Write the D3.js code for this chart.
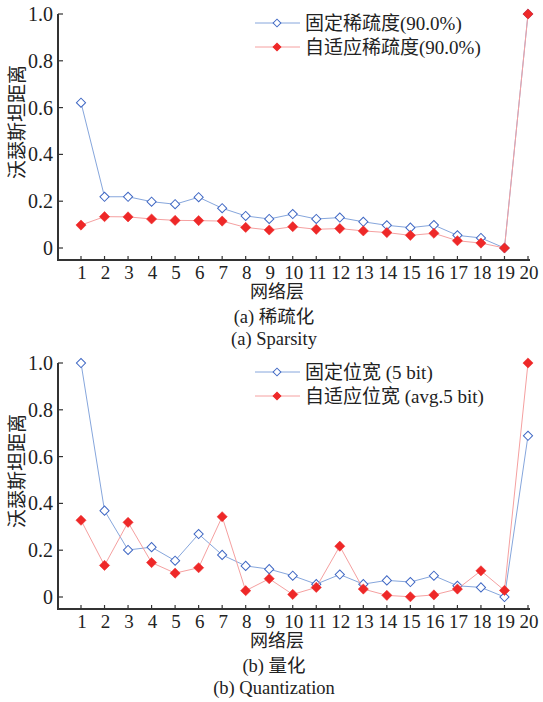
<!DOCTYPE html>
<html>
<head>
<meta charset="utf-8">
<script src="https://cdn.jsdelivr.net/npm/d3@7"></script>
</head>
<body style="margin:0;background:#fff">
<div id="chart"></div>
<script>
// layers 1..20
const layers = d3.range(1, 21);
const yTicks = [0, 0.2, 0.4, 0.6, 0.8, 1.0];

// (a) sparsity
const sparseFixed = [0.621,0.219,0.219,0.198,0.187,0.217,0.170,0.137,0.124,0.145,
                     0.124,0.130,0.112,0.097,0.087,0.098,0.054,0.043,0.0,1.0];
const sparseAdapt = [0.098,0.134,0.133,0.124,0.118,0.117,0.115,0.088,0.077,0.091,
                     0.080,0.083,0.073,0.066,0.054,0.063,0.031,0.021,0.0,1.0];
// (b) quantization
const quantFixed = [1.0,0.369,0.201,0.213,0.155,0.269,0.180,0.133,0.119,0.091,
                    0.055,0.096,0.055,0.071,0.064,0.091,0.048,0.041,0.0,0.689];
const quantAdapt = [0.328,0.135,0.319,0.147,0.102,0.125,0.343,0.027,0.078,0.011,
                    0.041,0.217,0.034,0.007,0.001,0.009,0.034,0.112,0.028,1.0];

const panels = [
  { top: 14, fixed: sparseFixed, adapt: sparseAdapt,
    legend: ['固定稀疏度(90.0%)', '自适应稀疏度(90.0%)'],
    cap1: '(a) 稀疏化', cap2: '(a) Sparsity' },
  { top: 363, fixed: quantFixed, adapt: quantAdapt,
    legend: ['固定位宽 (5 bit)', '自适应位宽 (avg.5 bit)'],
    cap1: '(b) 量化', cap2: '(b) Quantization' }
];

const W = 543, H = 702;
const FONT = '"Liberation Serif", "Noto Sans CJK SC", serif';
const blueLine = '#86a6dc', blueMark = '#4068c4';
const redLine = '#f5a0a0', redMark = '#ee2828';

const svg = d3.select('#chart').append('svg').attr('width', W).attr('height', H)
  .attr('font-family', FONT).attr('fill', '#222');

const x = d3.scaleLinear().domain([1, 20]).range([81, 528]);
// square turned 45deg -> diamond with equal diagonals
const diamondB = d3.symbol().type(d3.symbolSquare).size(42);
const diamondR = d3.symbol().type(d3.symbolSquare).size(52);
const diamondL = d3.symbol().type(d3.symbolSquare).size(30);

function txt(g, s, size){
  return g.append('text').style('font-family', FONT).style('font-size', size + 'px')
    .attr('fill', '#222').text(s);
}

panels.forEach(p => {
  const y = d3.scaleLinear().domain([0, 1]).range([p.top + 234, p.top]);
  const axisY = p.top + 246;
  const g = svg.append('g');

  // y axis
  g.append('line').attr('x1', 58).attr('x2', 58)
    .attr('y1', p.top).attr('y2', axisY)
    .attr('stroke', '#333').attr('stroke-width', 2);
  yTicks.forEach(t => {
    g.append('line').attr('x1', 58).attr('x2', 63)
      .attr('y1', y(t)).attr('y2', y(t)).attr('stroke', '#333').attr('stroke-width', 1.2);
    txt(g, t === 0 ? '0' : t.toFixed(1), 20)
      .attr('x', 53).attr('y', y(t)).attr('dy', '0.35em').attr('text-anchor', 'end');
  });

  // x axis
  g.append('line').attr('x1', 57).attr('x2', 530)
    .attr('y1', axisY).attr('y2', axisY)
    .attr('stroke', '#333').attr('stroke-width', 2);
  layers.forEach(l => {
    g.append('line').attr('x1', x(l)).attr('x2', x(l))
      .attr('y1', axisY).attr('y2', axisY - 4).attr('stroke', '#333').attr('stroke-width', 1.2);
    txt(g, l, 19).attr('x', x(l) + 1).attr('y', axisY + 12).attr('dy', '0.35em')
      .attr('text-anchor', 'middle');
  });

  // titles
  txt(g, '沃瑟斯坦距离', 19)
    .attr('transform', `translate(17,${p.top + 108}) rotate(-90)`)
    .attr('dy', '0.35em').attr('text-anchor', 'middle');
  txt(g, '网络层', 18).attr('x', 277).attr('y', axisY + 32).attr('dy', '0.35em')
    .attr('text-anchor', 'middle');
  txt(g, p.cap1, 18.5).attr('x', 274).attr('y', axisY + 57).attr('dy', '0.35em')
    .attr('text-anchor', 'middle');
  txt(g, p.cap2, 18.5).attr('x', 274).attr('y', axisY + 79).attr('dy', '0.35em')
    .attr('text-anchor', 'middle');

  // series
  const line = d3.line().x((d, i) => x(layers[i])).y(d => y(d));
  g.append('path').datum(p.fixed).attr('d', line)
    .attr('fill', 'none').attr('stroke', blueLine).attr('stroke-width', 1);
  g.selectAll('.fm').data(p.fixed).enter().append('path')
    .attr('transform', (d, i) => `translate(${x(layers[i])},${y(d)}) rotate(45)`)
    .attr('d', diamondB).attr('fill', '#fff').attr('stroke', blueMark).attr('stroke-width', 1);
  g.append('path').datum(p.adapt).attr('d', line)
    .attr('fill', 'none').attr('stroke', redLine).attr('stroke-width', 1);
  g.selectAll('.am').data(p.adapt).enter().append('path')
    .attr('transform', (d, i) => `translate(${x(layers[i])},${y(d)}) rotate(45)`)
    .attr('d', diamondR).attr('fill', redMark).attr('stroke', redMark).attr('stroke-width', 0.5);

  // legend
  const ly = [p.top + 9, p.top + 33];
  [[blueLine, blueMark, '#fff'], [redLine, redMark, redMark]].forEach((c, i) => {
    g.append('line').attr('x1', 255).attr('x2', 300).attr('y1', ly[i]).attr('y2', ly[i])
      .attr('stroke', c[0]).attr('stroke-width', 1);
    g.append('path').attr('transform', `translate(277,${ly[i]}) rotate(45)`)
      .attr('d', diamondL).attr('fill', c[2]).attr('stroke', c[1]).attr('stroke-width', 1);
    txt(g, p.legend[i], 19).attr('x', 305).attr('y', ly[i]).attr('dy', '0.35em');
  });
});
</script>
</body>
</html>
